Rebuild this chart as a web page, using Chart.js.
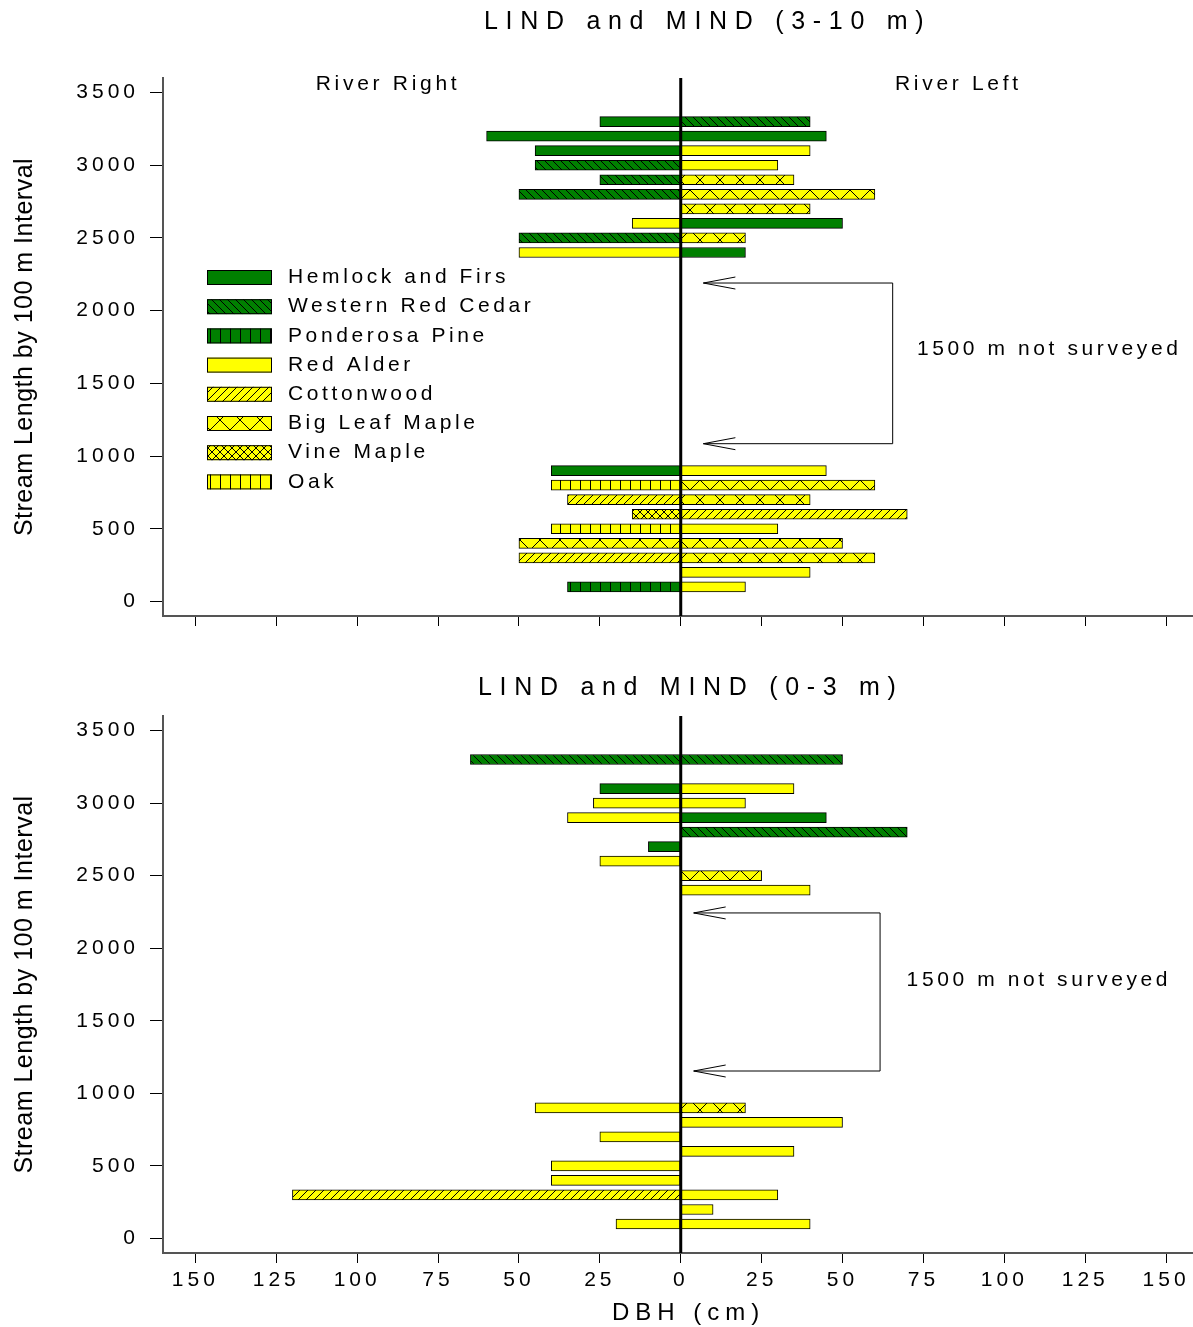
<!DOCTYPE html>
<html>
<head>
<meta charset="utf-8">
<title>LIND and MIND DBH</title>
<script src="https://cdn.jsdelivr.net/npm/chart.js@4.4.1/dist/chart.umd.min.js"></script>
<style>
  body { margin: 0; background: #fff; }
  canvas { display: block; }
</style>
</head>
<body>
<canvas id="upper" width="1193" height="650"></canvas>
<canvas id="lower" width="1193" height="677"></canvas>
<script>
// species codes and legend labels
const speciesCodes = ["HF", "WRC", "PP", "RA", "CW", "BLM", "VM", "OAK"];
const speciesLabels = ["Hemlock and Firs", "Western Red Cedar", "Ponderosa Pine", "Red Alder",
  "Cottonwood", "Big Leaf Maple", "Vine Maple", "Oak"];

// 3-10 m panel (River Right is drawn to the left of zero)
const upperHeights      = [3300, 3200, 3100, 3000, 2900, 2800, 2700, 2600, 2500, 2400, 900, 800, 700, 600, 500, 400, 300, 200, 100];
const upperRightDbh     = [25, 60, 45, 45, 25, 50, null, 15, 50, 50, 40, 40, 35, 15, 40, 50, 50, null, 35];
const upperRightSpecies = ["HF", "HF", "HF", "WRC", "WRC", "WRC", null, "RA", "WRC", "RA", "HF", "OAK", "CW", "VM", "OAK", "BLM", "CW", null, "PP"];
const upperLeftDbh      = [40, 45, 40, 30, 35, 60, 40, 50, 20, 20, 45, 60, 40, 70, 30, 50, 60, 40, 20];
const upperLeftSpecies  = ["WRC", "HF", "RA", "RA", "BLM", "BLM", "BLM", "HF", "BLM", "HF", "RA", "BLM", "BLM", "CW", "RA", "BLM", "BLM", "RA", "RA"];

// 0-3 m panel
const lowerHeights      = [3300, 3100, 3000, 2900, 2800, 2700, 2600, 2500, 2400, 900, 800, 700, 600, 500, 400, 300, 200, 100];
const lowerRightDbh     = [65, 25, 27, 35, null, 10, 25, null, null, 45, null, 25, null, 40, 40, 120, null, 20];
const lowerRightSpecies = ["WRC", "HF", "RA", "RA", null, "HF", "RA", null, null, "RA", null, "RA", null, "RA", "RA", "CW", null, "RA"];
const lowerLeftDbh      = [50, 35, 20, 45, 70, null, null, 25, 40, 20, 50, null, 35, null, null, 30, 10, 40];
const lowerLeftSpecies  = ["WRC", "RA", "RA", "HF", "WRC", null, null, "BLM", "RA", "BLM", "RA", null, "RA", null, null, "RA", "RA", "RA"];

// tick values
const yTickValues = [0, 500, 1000, 1500, 2000, 2500, 3000, 3500];
const xTickValues = [-150, -125, -100, -75, -50, -25, 0, 25, 50, 75, 100, 125, 150];

const FONT = "'Liberation Sans', Arial, sans-serif";
const GREEN = "#008000";
const YELLOW = "#ffff00";

// hatch patterns
function makePattern(bg, w, h, draw) {
  const c = document.createElement("canvas");
  c.width = w; c.height = h;
  const g = c.getContext("2d");
  g.fillStyle = bg;
  g.fillRect(0, 0, w, h);
  if (draw) {
    g.strokeStyle = "#000";
    g.lineWidth = 1;
    g.beginPath();
    draw(g, w, h);
    g.stroke();
  }
  return g.createPattern(c, "repeat");
}
const back = (g, w, h) => { for (const o of [-w, 0, w]) { g.moveTo(o, 0); g.lineTo(o + w, h); } };
const fwd = (g, w, h) => { for (const o of [-w, 0, w]) { g.moveTo(o, h); g.lineTo(o + w, 0); } };
const vert = (g, w, h) => { g.moveTo(0.5, 0); g.lineTo(0.5, h); };
const cross = (g, w, h) => { back(g, w, h); fwd(g, w, h); };

const fills = {
  HF: GREEN,
  WRC: makePattern(GREEN, 8, 8, back),
  PP: makePattern(GREEN, 10, 10, vert),
  RA: YELLOW,
  CW: makePattern(YELLOW, 8, 8, fwd),
  BLM: makePattern(YELLOW, 20, 20, cross),
  VM: makePattern(YELLOW, 8, 8, cross),
  OAK: makePattern(YELLOW, 10, 10, vert)
};

function buildDatasets(heights, rDbh, rSp, lDbh, lSp) {
  return speciesCodes.map((code, k) => {
    const pts = [];
    heights.forEach((h, i) => {
      if (rSp[i] === code) pts.push({ x: -rDbh[i], y: h });
      if (lSp[i] === code) pts.push({ x: lDbh[i], y: h });
    });
    return {
      label: speciesLabels[k],
      data: pts,
      backgroundColor: fills[code],
      borderColor: "#000",
      borderWidth: 1,
      borderSkipped: false,
      barThickness: 10,
      grouped: false
    };
  });
}

function spacedText(ctx, text, x, y, size, spacing, align) {
  ctx.save();
  ctx.font = size + "px " + FONT;
  ctx.letterSpacing = spacing + "px";
  ctx.fillStyle = "#000";
  ctx.textAlign = align || "left";
  ctx.textBaseline = "middle";
  ctx.fillText(text, x, y);
  ctx.restore();
}

const decorPlugin = {
  id: "decor",
  beforeDraw(chart) {
    chart.ctx.letterSpacing = "4px";
  },
  afterDatasetsDraw(chart) {
    const { ctx, chartArea, scales } = chart;
    const x0 = scales.x.getPixelForValue(0);
    ctx.save();
    ctx.strokeStyle = "#000";
    ctx.lineWidth = 3;
    ctx.beginPath();
    ctx.moveTo(x0, chartArea.top);
    ctx.lineTo(x0, chartArea.bottom);
    ctx.stroke();
    ctx.restore();
  },
  afterDraw(chart, args, opts) {
    const { ctx, chartArea, scales } = chart;
    const xs = scales.x, ys = scales.y;

    spacedText(ctx, opts.title, opts.titleX, opts.titleY, 25, 7.7);

    // y axis title
    ctx.save();
    ctx.translate(25, (chartArea.top + chartArea.bottom) / 2);
    ctx.rotate(-Math.PI / 2);
    ctx.letterSpacing = "0.5px";
    ctx.font = "25px " + FONT;
    ctx.fillStyle = "#000";
    ctx.textAlign = "center";
    ctx.textBaseline = "middle";
    ctx.fillText("Stream Length by 100 m Interval", 0, 0);
    ctx.restore();

    // x axis title
    if (opts.xTitle) {
      spacedText(ctx, opts.xTitle, 612, chartArea.bottom + 60, 24, 6);
    }

    (opts.labels || []).forEach(l => {
      spacedText(ctx, l.text, xs.getPixelForValue(l.x), ys.getPixelForValue(l.y), 21, 3.7);
    });

    // bracket for the unsurveyed reach
    const b = opts.bracket;
    const tip = xs.getPixelForValue(b.tip), right = xs.getPixelForValue(b.right);
    const top = ys.getPixelForValue(b.top), bot = ys.getPixelForValue(b.bottom);
    ctx.save();
    ctx.strokeStyle = "#000";
    ctx.lineWidth = 1;
    ctx.beginPath();
    ctx.moveTo(tip, top); ctx.lineTo(right, top); ctx.lineTo(right, bot); ctx.lineTo(tip, bot);
    for (const yy of [top, bot]) {
      ctx.moveTo(tip + 32, yy - 6); ctx.lineTo(tip, yy); ctx.lineTo(tip + 32, yy + 6);
    }
    ctx.stroke();
    ctx.restore();
    spacedText(ctx, b.text, xs.getPixelForValue(b.textX), ys.getPixelForValue(b.textY), 21, 3.6);

    // legend inside the plot
    if (opts.legend) {
      const lx = chartArea.left + 44;
      speciesCodes.forEach((code, k) => {
        const cy = chartArea.top + 199.5 + k * 29.2;
        ctx.save();
        ctx.fillStyle = fills[code];
        ctx.fillRect(lx, cy - 7.5, 65, 15);
        ctx.strokeStyle = "#000";
        ctx.lineWidth = 1;
        ctx.strokeRect(lx + 0.5, cy - 7, 64, 14);
        ctx.restore();
        spacedText(ctx, speciesLabels[k], lx + 81, cy, 21, 3.6);
      });
    }
  }
};

function makeChart(id, datasets, padTop, axisHeight, showXLabels, decor) {
  return new Chart(document.getElementById(id), {
    type: "bar",
    data: { datasets },
    options: {
      indexAxis: "y",
      responsive: false,
      animation: false,
      events: [],
      layout: { padding: { top: padTop, right: 1, left: 0, bottom: 0 } },
      plugins: { legend: { display: false }, tooltip: { enabled: false }, decor },
      scales: {
        x: {
          type: "linear",
          min: -160,
          max: 158,
          afterBuildTicks: s => { s.ticks = xTickValues.map(v => ({ value: v })); },
          ticks: {
            maxRotation: 0,
            autoSkip: false,
            padding: 5,
            color: showXLabels ? "#000" : "transparent",
            font: { family: FONT, size: 21 },
            callback: v => Math.abs(v)
          },
          grid: { drawOnChartArea: false, tickLength: 10, tickColor: "#000", tickWidth: 1 },
          border: { color: "#555", width: 2 },
          afterFit: s => { s.height = axisHeight; }
        },
        y: {
          type: "linear",
          min: -100,
          max: 3600,
          offset: false,
          afterBuildTicks: s => { s.ticks = yTickValues.map(v => ({ value: v })); },
          ticks: {
            autoSkip: false,
            padding: 11,
            color: "#000",
            font: { family: FONT, size: 21 },
            callback: v => String(v)
          },
          grid: { drawOnChartArea: false, offset: false, tickLength: 13, tickColor: "#000", tickWidth: 1 },
          border: { color: "#555", width: 2 },
          afterFit: s => { s.width = 163; }
        }
      }
    },
    plugins: [decorPlugin]
  });
}

makeChart("upper",
  buildDatasets(upperHeights, upperRightDbh, upperRightSpecies, upperLeftDbh, upperLeftSpecies),
  78, 34, false,
  {
    title: "LIND and MIND (3-10 m)", titleX: 484, titleY: 22,
    labels: [{ text: "River Right", x: -112.8, y: 3560 }, { text: "River Left", x: 66.2, y: 3560 }],
    bracket: { tip: 7, right: 65.5, top: 2190, bottom: 1085, text: "1500 m not surveyed", textX: 73, textY: 1737 },
    legend: true
  });

makeChart("lower",
  buildDatasets(lowerHeights, lowerRightDbh, lowerRightSpecies, lowerLeftDbh, lowerLeftSpecies),
  66, 74, true,
  {
    title: "LIND and MIND (0-3 m)", titleX: 478, titleY: 38,
    xTitle: "DBH (cm)",
    labels: [],
    bracket: { tip: 4, right: 61.6, top: 2243, bottom: 1154, text: "1500 m not surveyed", textX: 69.8, textY: 1781 },
    legend: false
  });
</script>
</body>
</html>
